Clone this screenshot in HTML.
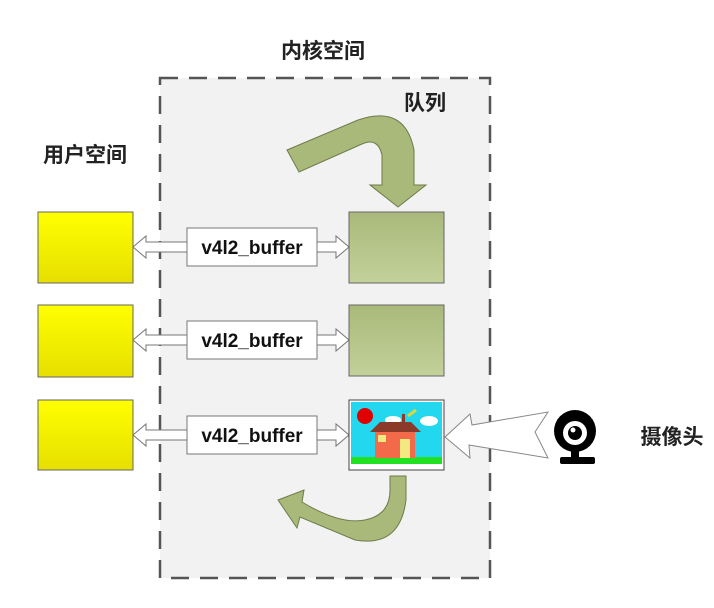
<!DOCTYPE html>
<html><head><meta charset="utf-8"><style>
body{margin:0;background:#fff;width:714px;height:608px;overflow:hidden}
svg{display:block}
text{font-family:"Liberation Sans","Noto Sans CJK SC",sans-serif}
.cn{font-size:21px;font-weight:bold;fill:#222}
.lbl{font-size:19px;font-weight:bold;fill:#111}
</style></head><body>
<svg width="714" height="608" viewBox="0 0 714 608">
<defs>
<linearGradient id="yg" x1="0" y1="0" x2="0" y2="1"><stop offset="0" stop-color="#ffff00"/><stop offset="1" stop-color="#e6df00"/></linearGradient>
<linearGradient id="gg" x1="0" y1="0" x2="0" y2="1"><stop offset="0" stop-color="#a9b97a"/><stop offset="1" stop-color="#c3d19a"/></linearGradient>
</defs>
<rect x="160" y="78" width="330" height="500" fill="#f2f2f2" stroke="#555" stroke-width="2.5" stroke-dasharray="18,11"/>
<text class="cn" x="323" y="58" text-anchor="middle">内核空间</text>
<text class="cn" x="425" y="110" text-anchor="middle">队列</text>
<text class="cn" x="85" y="162" text-anchor="middle">用户空间</text>
<text class="cn" x="672" y="444" text-anchor="middle">摄像头</text>

<path d="M287,150 L358,120 Q405,104 414,150 L414,185 L426,185 L398,207 L370,185 L382,185 L382,155 Q378,137 362,144 L299,172 Z" fill="#a9b97a" stroke="#6e7a4a" stroke-width="1"/>
<path d="M390,476 L406,476 L406,500 Q400,548 355,540 L300,517 L297,528 L278,500 L304,490 L302,502 Q340,525 365,520 Q390,515 390,490 Z" fill="#a9b97a" stroke="#6e7a4a" stroke-width="1"/>

<g>
<rect x="38" y="212" width="95" height="71" fill="url(#yg)" stroke="#666"/>
<path d="M133,247 L146,236 L146,242 L187,242 L187,252 L146,252 L146,258 Z" fill="#fff" stroke="#777"/>
<rect x="187" y="228" width="130" height="38" fill="#fff" stroke="#777"/>
<text class="lbl" x="252" y="254" text-anchor="middle">v4l2_buffer</text>
<path d="M317,242 L336,242 L336,236 L349,247 L336,258 L336,252 L317,252 Z" fill="#fff" stroke="#777"/>
<rect x="349" y="212" width="95" height="71" fill="url(#gg)" stroke="#666"/>
</g>
<g>
<rect x="38" y="305" width="95" height="72" fill="url(#yg)" stroke="#666"/>
<path d="M133,340 L146,329 L146,335 L187,335 L187,345 L146,345 L146,351 Z" fill="#fff" stroke="#777"/>
<rect x="187" y="321" width="130" height="38" fill="#fff" stroke="#777"/>
<text class="lbl" x="252" y="347" text-anchor="middle">v4l2_buffer</text>
<path d="M317,335 L336,335 L336,329 L349,340 L336,351 L336,345 L317,345 Z" fill="#fff" stroke="#777"/>
<rect x="349" y="305" width="95" height="71" fill="url(#gg)" stroke="#666"/>
</g>
<g>
<rect x="38" y="400" width="95" height="70" fill="url(#yg)" stroke="#666"/>
<path d="M133,435 L146,424 L146,430 L187,430 L187,440 L146,440 L146,446 Z" fill="#fff" stroke="#777"/>
<rect x="187" y="416" width="130" height="38" fill="#fff" stroke="#777"/>
<text class="lbl" x="252" y="442" text-anchor="middle">v4l2_buffer</text>
<path d="M317,430 L336,430 L336,424 L349,435 L336,446 L336,440 L317,440 Z" fill="#fff" stroke="#777"/>
<g>
<rect x="349" y="400" width="95" height="70" fill="#fff" stroke="#444"/>
<rect x="351" y="402" width="91" height="56" fill="#22d7ee"/>
<rect x="351" y="457" width="91" height="7" fill="#22e022"/>
<circle cx="365" cy="416" r="8" fill="#e00000"/>
<ellipse cx="393" cy="420" rx="8" ry="4" fill="#fff"/>
<ellipse cx="429" cy="421" rx="9" ry="5" fill="#fff"/>
<path d="M408,416 L416,410" stroke="#d8d83a" stroke-width="3"/>
<rect x="402" y="414" width="3" height="8" fill="#8b3a2a"/>
<path d="M370,432 L380,422 L411,422 L421,432 Z" fill="#8b3a2a"/>
<rect x="375" y="432" width="40" height="26" fill="#f26a4a"/>
<rect x="400" y="439" width="10" height="19" fill="#f2ea80"/>
<rect x="378" y="435" width="8" height="7" fill="#f2ea80"/>
</g>
</g>
<path d="M445,437 L470,414 L472,425 L548,412 L535,432 L548,458 L469,445 L470,458 Z" fill="#fff" stroke="#888"/>
<g>
<circle cx="575" cy="431" r="21" fill="#000"/>
<circle cx="575" cy="433" r="12" fill="#fff"/>
<circle cx="575" cy="433" r="7" fill="#000"/>
<circle cx="573" cy="430" r="2.5" fill="#fff"/>
<rect x="571" y="450" width="8" height="10" fill="#000"/>
<rect x="560" y="457" width="35" height="7" rx="2" fill="#000"/>
</g>
</svg>
</body></html>
